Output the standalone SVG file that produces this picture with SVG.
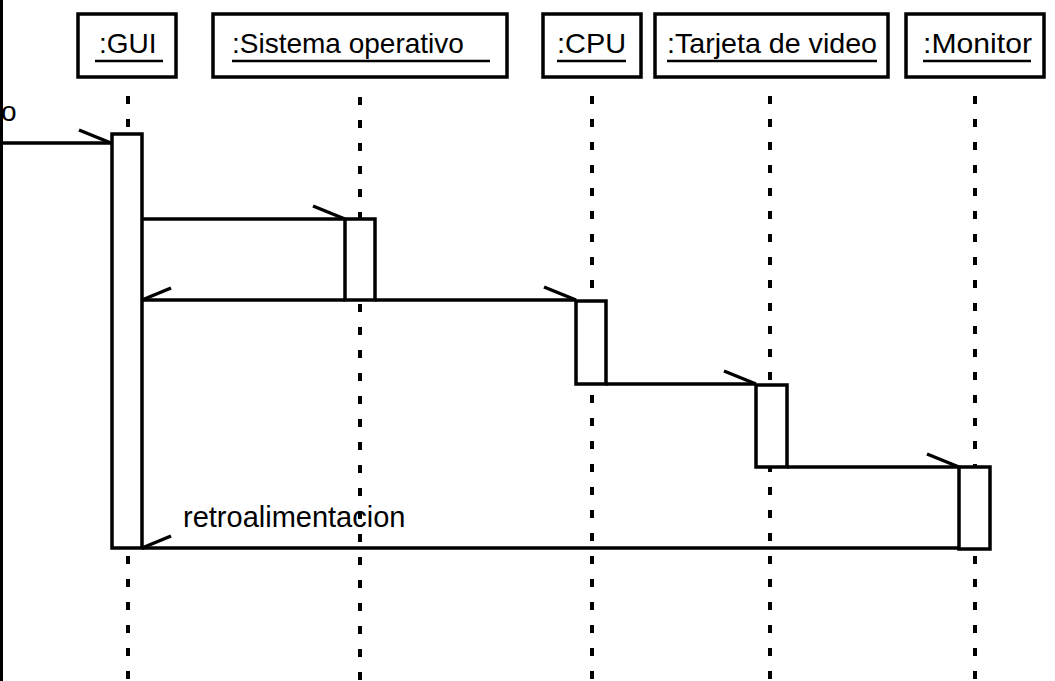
<svg xmlns="http://www.w3.org/2000/svg" width="1055" height="681" viewBox="0 0 1055 681">
<style>
.box{fill:#fff;stroke:#000;stroke-width:3.5}
.lbl{font-family:"Liberation Sans",Arial,sans-serif;font-size:28px;fill:#000}
.ul{stroke:#000;stroke-width:2.5}
.life{stroke:#000;stroke-width:4;stroke-dasharray:8 15}
.bar{fill:#fff;stroke:#000;stroke-width:3.5}
.msg{stroke:#000;stroke-width:3.5;fill:none}
</style>
<defs>
<marker id="hr" markerUnits="userSpaceOnUse" orient="auto" refX="0" refY="0" markerWidth="1" markerHeight="1" overflow="visible">
<path d="M0,0 L-32,-13" stroke="#000" stroke-width="3.5" fill="none"/>
</marker>
<marker id="hl" markerUnits="userSpaceOnUse" orient="auto" refX="0" refY="0" markerWidth="1" markerHeight="1" overflow="visible">
<path d="M0,0 L-29,12" stroke="#000" stroke-width="3.5" fill="none"/>
</marker>
</defs>
<rect width="1055" height="681" fill="#fff"/>
<rect x="0" y="0" width="3" height="681" fill="#000"/>

<g id="lifelines">
<line class="life" x1="128" y1="96" x2="128" y2="681"/>
<line class="life" x1="360" y1="97" x2="360" y2="681"/>
<line class="life" x1="592" y1="96" x2="592" y2="681"/>
<line class="life" x1="770" y1="96" x2="770" y2="681"/>
<line class="life" x1="975" y1="96" x2="975" y2="681"/>
</g>

<g id="gui">
<rect class="box" x="78" y="14" width="98" height="63"/>
<text class="lbl" x="99" y="53">:GUI</text>
<line class="ul" x1="95" y1="61" x2="163" y2="61"/>
<rect class="bar" x="112" y="134" width="30" height="414"/>
</g>
<g id="sistema">
<rect class="box" x="213" y="14" width="294" height="63"/>
<text class="lbl" x="232" y="53">:Sistema operativo</text>
<line class="ul" x1="232" y1="61" x2="490" y2="61"/>
<rect class="bar" x="345" y="219" width="30" height="81"/>
</g>
<g id="cpu">
<rect class="box" x="543" y="14" width="98" height="63"/>
<text class="lbl" x="557" y="53" textLength="69" lengthAdjust="spacingAndGlyphs">:CPU</text>
<line class="ul" x1="557" y1="61" x2="626" y2="61"/>
<rect class="bar" x="576" y="301" width="30" height="83"/>
</g>
<g id="tarjeta">
<rect class="box" x="655" y="14" width="233" height="63"/>
<text class="lbl" x="667" y="53" textLength="210" lengthAdjust="spacingAndGlyphs">:Tarjeta de video</text>
<line class="ul" x1="667" y1="61" x2="877" y2="61"/>
<rect class="bar" x="756" y="385" width="31" height="82"/>
</g>
<g id="monitor">
<rect class="box" x="906" y="14" width="138" height="63"/>
<text class="lbl" x="923" y="53" textLength="109" lengthAdjust="spacingAndGlyphs">:Monitor</text>
<line class="ul" x1="923" y1="61" x2="1031" y2="61"/>
<rect class="bar" x="959" y="467" width="31" height="82"/>
</g>

<g id="connectors">
<text class="lbl" x="1" y="121">o</text>
<line class="msg" x1="0" y1="143" x2="111" y2="143" marker-end="url(#hr)"/>
<line class="msg" x1="142" y1="219" x2="345" y2="219" marker-end="url(#hr)"/>
<line class="msg" x1="345" y1="300" x2="142" y2="300" marker-end="url(#hl)"/>
<line class="msg" x1="375" y1="300" x2="576" y2="300" marker-end="url(#hr)"/>
<line class="msg" x1="606" y1="384" x2="756" y2="384" marker-end="url(#hr)"/>
<line class="msg" x1="787" y1="467" x2="959" y2="467" marker-end="url(#hr)"/>
<line class="msg" x1="959" y1="548" x2="142" y2="548" marker-end="url(#hl)"/>
<text class="lbl" x="183" y="527" style="font-size:29px">retroalimentacion</text>
</g>
</svg>
